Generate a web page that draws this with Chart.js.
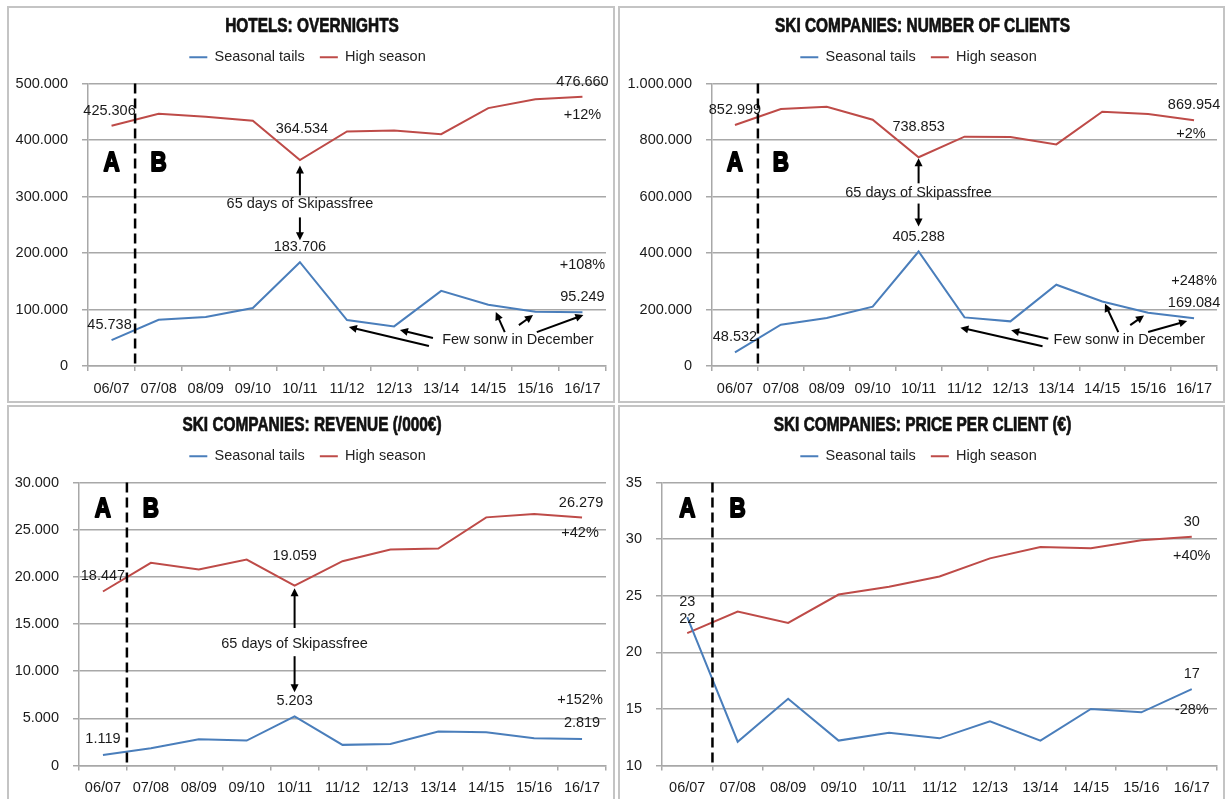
<!DOCTYPE html>
<html>
<head>
<meta charset="utf-8">
<script src="https://cdn.jsdelivr.net/npm/chart.js@4.4.1/dist/chart.umd.min.js"></script>
<style>
  body { margin: 0; background: #fff; width: 1225px; height: 799px; overflow: hidden; position: relative; }
  .panel { position: absolute; border: 2px solid #c4c4c4; box-sizing: border-box; background: #fff; }
  #p1 { left: 7px; top: 6px; width: 608px; height: 397px; }
  #p2 { left: 618px; top: 6px; width: 607px; height: 397px; }
  #p3 { left: 7px; top: 405px; width: 608px; height: 396px; }
  #p4 { left: 618px; top: 405px; width: 607px; height: 396px; }
</style>
</head>
<body>
<div class="panel" id="p1"><canvas id="c1"></canvas></div>
<div class="panel" id="p2"><canvas id="c2"></canvas></div>
<div class="panel" id="p3"><canvas id="c3"></canvas></div>
<div class="panel" id="p4"><canvas id="c4"></canvas></div>
<script>
const seasons = ['06/07', '07/08', '08/09', '09/10', '10/11', '11/12', '12/13', '13/14', '14/15', '15/16', '16/17'];

const hotelsTails = [45738, 81800, 86600, 102500, 183706, 81300, 70100, 133000, 108300, 96000, 95249];
const hotelsHigh = [425306, 446500, 441100, 434100, 364534, 415200, 417000, 410400, 456400, 472300, 476660];
const clientsTails = [48532, 146300, 169600, 209900, 405288, 172000, 158000, 287600, 228600, 188700, 169084];
const clientsHigh = [852999, 909500, 917700, 871700, 738853, 811700, 810600, 784500, 900000, 891900, 869954];
const revenueTails = [1119, 1838, 2789, 2641, 5203, 2187, 2292, 3592, 3528, 2894, 2819];
const revenueHigh = [18447, 21486, 20778, 21834, 19059, 21655, 22890, 22996, 26303, 26662, 26279];
const priceTails = [23.1, 12.1, 15.9, 12.2, 12.9, 12.4, 13.9, 12.2, 15.0, 14.7, 16.75];
const priceHigh = [21.7, 23.6, 22.6, 25.1, 25.8, 26.7, 28.3, 29.3, 29.2, 29.9, 30.2];

// change 06/07 -> 16/17, [tails, high]
const hotelsChange = ['+108%', '+12%'];
const clientsChange = ['+248%', '+2%'];
const revenueChange = ['+152%', '+42%'];
const priceChange = ['-28%', '+40%'];

const BLUE = '#4a7ebb';
const RED = '#be4b48';
const GRID = '#a8a8a8';
const FONT = "'Liberation Sans', Arial, sans-serif";

const fmt = v => Math.round(v).toString().replace(/\B(?=(\d{3})+(?!\d))/g, '.');
const SKIPASS = '65 days of Skipassfree';
const SNOW = 'Few sonw in December';

// condensed heavy text (no narrow font installed, so squeeze it)
function narrowText(ctx, text, x, y, size, squeeze, weight) {
  ctx.save();
  ctx.font = 'bold ' + size + 'px ' + FONT;
  ctx.translate(x, y);
  ctx.scale(squeeze, 1);
  ctx.lineWidth = weight;
  ctx.lineJoin = 'round';
  ctx.strokeText(text, 0, 0);
  ctx.fillText(text, 0, 0);
  ctx.restore();
}

// draws the title, A|B divider, value labels, notes and arrows
const notesPlugin = {
  id: 'notes',
  afterDatasetsDraw(chart, args, opts) {
    const { ctx, chartArea, scales: { x, y } } = chart;
    ctx.save();
    ctx.fillStyle = '#111';
    ctx.strokeStyle = '#111';
    ctx.textAlign = 'center';
    ctx.textBaseline = 'middle';
    narrowText(ctx, opts.title, chart.width / 2 + 1, 18.5, 19.5, 0.79, 0.7);

    ctx.fillStyle = '#1a1a1a';
    ctx.font = '14.5px ' + FONT;
    (opts.labels || []).forEach(l => {
      const pt = chart.getDatasetMeta(l.ds).data[l.i];
      ctx.fillText(l.text, pt.x + (l.dx || 0), pt.y + l.dy);
    });
    (opts.texts || []).forEach(t => {
      ctx.fillText(t.text, x.getPixelForValue(t.i), y.getPixelForValue(t.v));
    });
    ctx.strokeStyle = '#000';
    ctx.fillStyle = '#000';
    ctx.lineWidth = 2;
    (opts.arrows || []).forEach(a => {
      const x1 = x.getPixelForValue(a[0]), y1 = y.getPixelForValue(a[1]);
      const x2 = x.getPixelForValue(a[2]), y2 = y.getPixelForValue(a[3]);
      const ang = Math.atan2(y2 - y1, x2 - x1);
      const hl = 8, hw = 4;
      ctx.beginPath();
      ctx.moveTo(x1, y1);
      ctx.lineTo(x2 - Math.cos(ang) * hl * 0.8, y2 - Math.sin(ang) * hl * 0.8);
      ctx.stroke();
      ctx.beginPath();
      ctx.moveTo(x2, y2);
      ctx.lineTo(x2 - Math.cos(ang) * hl - Math.sin(ang) * hw, y2 - Math.sin(ang) * hl + Math.cos(ang) * hw);
      ctx.lineTo(x2 - Math.cos(ang) * hl + Math.sin(ang) * hw, y2 - Math.sin(ang) * hl - Math.cos(ang) * hw);
      ctx.closePath();
      ctx.fill();
    });
    // period letters
    narrowText(ctx, 'A', x.getPixelForValue(0), y.getPixelForValue(opts.letterY), 28, 0.8, 2);
    narrowText(ctx, 'B', x.getPixelForValue(1), y.getPixelForValue(opts.letterY), 28, 0.8, 2);
    // dashed divider between 06/07 and 07/08
    const dx = x.getPixelForValue(0.5);
    ctx.setLineDash([10, 5]);
    ctx.lineWidth = 2.5;
    ctx.beginPath();
    ctx.moveTo(dx, chartArea.top);
    ctx.lineTo(dx, chartArea.bottom);
    ctx.stroke();
    ctx.restore();
  }
};

function makeChart(id, title, tails, high, yopt, layout, notes) {
  notes.title = title;
  return new Chart(document.getElementById(id), {
    type: 'line',
    data: {
      labels: seasons,
      datasets: [
        { label: 'Seasonal tails', data: tails, borderColor: BLUE, backgroundColor: BLUE, borderWidth: 2, pointRadius: 0, tension: 0 },
        { label: 'High season', data: high, borderColor: RED, backgroundColor: RED, borderWidth: 2, pointRadius: 0, tension: 0 }
      ]
    },
    options: {
      responsive: true,
      maintainAspectRatio: false,
      animation: false,
      events: [],
      layout: { padding: { top: 27, right: layout.right, bottom: 0, left: 0 } },
      scales: {
        x: {
          offset: true,
          grid: { offset: true, drawOnChartArea: false, drawTicks: true, tickLength: 5, color: GRID, lineWidth: 1.5 },
          border: { display: true, color: GRID, width: 1.5 },
          ticks: { color: '#1a1a1a', font: { family: FONT, size: 14.5 }, padding: 9, maxRotation: 0, autoSkip: false },
          afterFit: s => { s.height = layout.xh; }
        },
        y: {
          min: yopt.min,
          max: yopt.max,
          grid: { color: GRID, lineWidth: 1.5, drawTicks: true, tickLength: 6 },
          border: { display: true, color: GRID, width: 1.5 },
          ticks: { stepSize: yopt.step, color: '#1a1a1a', font: { family: FONT, size: 14.5 }, padding: 14, callback: v => fmt(v) },
          afterFit: s => { s.width = layout.yw; }
        }
      },
      plugins: {
        title: { display: false },
        // empty spacer between the legend and the plot
        subtitle: { display: true, text: '', weight: 500, padding: 0, font: { size: 9, lineHeight: 1 } },
        legend: {
          display: true,
          labels: {
            usePointStyle: true,
            pointStyle: 'line',
            pointStyleWidth: 18,
            color: '#222',
            padding: 15,
            font: { family: FONT, size: 14.5 }
          }
        },
        tooltip: { enabled: false },
        notes: notes
      }
    },
    plugins: [notesPlugin]
  });
}

makeChart('c1', 'HOTELS: OVERNIGHTS', hotelsTails, hotelsHigh,
  { min: 0, max: 500000, step: 100000 },
  { right: 7, xh: 35, yw: 79 },
  {
    letterY: 358000,
    labels: [
      { ds: 1, i: 0, dy: -15, dx: -2, text: fmt(hotelsHigh[0]) },
      { ds: 1, i: 4, dy: -31, dx: 2, text: fmt(hotelsHigh[4]) },
      { ds: 1, i: 10, dy: -15, text: fmt(hotelsHigh[10]) },
      { ds: 1, i: 10, dy: 18, text: hotelsChange[1] },
      { ds: 0, i: 4, dy: -15, text: fmt(hotelsTails[4]) },
      { ds: 0, i: 10, dy: -47, text: hotelsChange[0] },
      { ds: 0, i: 10, dy: -15, text: fmt(hotelsTails[10]) },
      { ds: 0, i: 0, dy: -15, dx: -2, text: fmt(hotelsTails[0]) }
    ],
    texts: [{ i: 4, v: 286000, text: SKIPASS }, { i: 8.63, v: 45900, text: SNOW }],
    arrows: [[4, 302000, 4, 355000], [4, 263000, 4, 222600],
      [6.825, 49500, 6.124, 63600], [6.74, 35300, 5.04, 68900],
      [8.35, 60000, 8.16, 95400], [8.65, 72400, 8.95, 90100], [9.03, 60000, 10.02, 90100]]
  });

makeChart('c2', 'SKI COMPANIES: NUMBER OF CLIENTS', clientsTails, clientsHigh,
  { min: 0, max: 1000000, step: 200000 },
  { right: 6, xh: 35, yw: 92 },
  {
    letterY: 716000,
    labels: [
      { ds: 1, i: 0, dy: -15, text: fmt(clientsHigh[0]) },
      { ds: 1, i: 4, dy: -30, text: fmt(clientsHigh[4]) },
      { ds: 1, i: 10, dy: -15, text: fmt(clientsHigh[10]) },
      { ds: 1, i: 10, dy: 14, dx: -3, text: clientsChange[1] },
      { ds: 0, i: 4, dy: -15, text: fmt(clientsTails[4]) },
      { ds: 0, i: 10, dy: -37, text: clientsChange[0] },
      { ds: 0, i: 10, dy: -15, text: fmt(clientsTails[10]) },
      { ds: 0, i: 0, dy: -15, text: fmt(clientsTails[0]) }
    ],
    texts: [{ i: 4, v: 611000, text: SKIPASS }, { i: 8.59, v: 93300, text: SNOW }],
    arrows: [[4, 646600, 4, 735000], [4, 575000, 4, 493600],
      [6.825, 96800, 6.016, 126200], [6.70, 69600, 4.91, 135700],
      [8.35, 120100, 8.06, 220500], [8.61, 144500, 8.91, 179200], [9.0, 120100, 9.85, 159000]]
  });

makeChart('c3', 'SKI COMPANIES: REVENUE (/000€)', revenueTails, revenueHigh,
  { min: 0, max: 30000, step: 5000 },
  { right: 7, xh: 33.5, yw: 70 },
  {
    letterY: 27190,
    labels: [
      { ds: 1, i: 0, dy: -15, text: fmt(revenueHigh[0]) },
      { ds: 1, i: 4, dy: -30, text: fmt(revenueHigh[4]) },
      { ds: 1, i: 10, dy: -15, dx: -1, text: fmt(revenueHigh[10]) },
      { ds: 1, i: 10, dy: 15, dx: -2, text: revenueChange[1] },
      { ds: 0, i: 4, dy: -15, text: fmt(revenueTails[4]) },
      { ds: 0, i: 10, dy: -39, dx: -2, text: revenueChange[0] },
      { ds: 0, i: 10, dy: -16, text: fmt(revenueTails[10]) },
      { ds: 0, i: 0, dy: -16, text: fmt(revenueTails[0]) }
    ],
    texts: [{ i: 4, v: 12856, text: SKIPASS }],
    arrows: [[4, 14577, 4, 18803], [4, 11588, 4, 7754]]
  });

makeChart('c4', 'SKI COMPANIES: PRICE PER CLIENT (€)', priceTails, priceHigh,
  { min: 10, max: 35, step: 5 },
  { right: 6, xh: 33.5, yw: 42 },
  {
    letterY: 32.66,
    labels: [
      { ds: 0, i: 0, dy: -15, text: fmt(priceTails[0]) },
      { ds: 1, i: 0, dy: -14, text: fmt(priceHigh[0]) },
      { ds: 1, i: 10, dy: -15, text: fmt(priceHigh[10]) },
      { ds: 1, i: 10, dy: 19, text: priceChange[1] },
      { ds: 0, i: 10, dy: -15, text: fmt(priceTails[10]) },
      { ds: 0, i: 10, dy: 21, text: priceChange[0] }
    ],
    texts: [],
    arrows: []
  });
</script>
</body>
</html>
